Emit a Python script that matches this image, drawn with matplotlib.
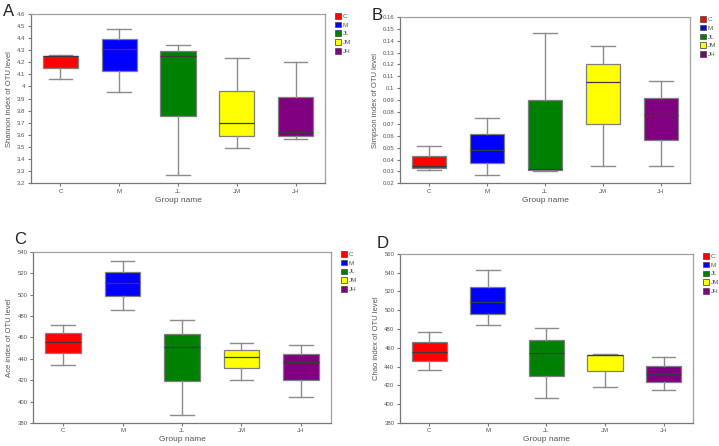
import matplotlib
matplotlib.use('Agg')
import matplotlib.pyplot as plt
from matplotlib.patches import Patch
from matplotlib.ticker import FormatStrFormatter, MultipleLocator

plt.rcParams['font.family'] = ['Liberation Sans', 'DejaVu Sans']

gruppi = ['C', 'M', 'JL', 'JM', 'JH']
colori = ['#ff0000', '#0000ff', '#008000', '#ffff00', '#800080']

# Shannon (A): minimo, Q1, mediana, Q3, massimo
shannon_lo = [4.059, 3.954, 3.269, 3.493, 3.564]
shannon_q1 = [4.155, 4.130, 3.757, 3.594, 3.592]
shannon_med = [4.250, 4.310, 4.249, 3.696, 3.622]
shannon_q3 = [4.254, 4.393, 4.296, 3.964, 3.914]
shannon_hi = [4.257, 4.478, 4.343, 4.231, 4.206]

# Simpson (B)
simpson_lo = [0.0311, 0.0266, 0.0302, 0.0349, 0.0347]
simpson_q1 = [0.0325, 0.0372, 0.0310, 0.0697, 0.0561]
simpson_med = [0.0347, 0.0479, 0.0322, 0.1051, 0.0778]
simpson_q3 = [0.0429, 0.0617, 0.0898, 0.1204, 0.0920]
simpson_hi = [0.0516, 0.0752, 0.1464, 0.1358, 0.1065]

# Ace (C)
ace_lo = [434.0, 485.7, 387.7, 420.5, 404.0]
ace_q1 = [445.2, 498.8, 419.3, 431.4, 420.5]
ace_med = [456.0, 511.0, 451.0, 442.0, 436.7]
ace_q3 = [464.2, 521.6, 463.6, 448.6, 444.5]
ace_hi = [471.7, 531.6, 476.7, 454.8, 453.0]

# Chao (D)
chao_lo = [436.4, 484.3, 406.5, 418.6, 415.4]
chao_q1 = [446.0, 496.4, 430.3, 434.9, 423.6]
chao_med = [455.9, 508.5, 454.1, 452.0, 431.8]
chao_q3 = [465.9, 525.2, 468.3, 452.7, 440.3]
chao_hi = [476.5, 542.6, 481.5, 453.8, 449.9]

# lettera, posizione assi, posizione lettera (px), etichetta y, dati, limiti, passo, formato
pannelli = [
    ('A', [0.0431, 0.5890, 0.4089, 0.3800], (3, 12), 'Shannon index of OTU level',
     (shannon_lo, shannon_q1, shannon_med, shannon_q3, shannon_hi), (3.2, 4.6), 0.1, '%g'),
    ('B', [0.5563, 0.5890, 0.4034, 0.3730], (372, 15), 'Simpson index of OTU level',
     (simpson_lo, simpson_q1, simpson_med, simpson_q3, simpson_hi), (0.02, 0.16), 0.01, '%g'),
    ('C', [0.0463, 0.0518, 0.4136, 0.3833], (14, 240), 'Ace index of OTU level',
     (ace_lo, ace_q1, ace_med, ace_q3, ace_hi), (380, 540), 20, '%d'),
    ('D', [0.5563, 0.0518, 0.4075, 0.3789], (377, 244), 'Chao index of OTU level',
     (chao_lo, chao_q1, chao_med, chao_q3, chao_hi), (380, 560), 20, '%d'),
]

W, H = 719, 446
fig = plt.figure(figsize=(W / 100, H / 100), dpi=100)

for lettera, pos, pos_lett, ylab, dati, ylim, passo, fmt in pannelli:
    ax = fig.add_axes(pos)
    lo, q1, med, q3, hi = dati
    stats = []
    for i in range(len(gruppi)):
        stats.append({'whislo': lo[i], 'q1': q1[i], 'med': med[i],
                      'q3': q3[i], 'whishi': hi[i], 'fliers': [], 'label': gruppi[i]})
    bp = ax.bxp(stats, positions=range(1, 6), widths=0.6, patch_artist=True,
                showfliers=False,
                boxprops=dict(edgecolor='#7f7f7f', linewidth=0.9),
                medianprops=dict(color='#3a3a3a', linewidth=0.9),
                whiskerprops=dict(color='#8c8c8c', linewidth=1.0),
                capprops=dict(color='#8c8c8c', linewidth=1.0),
                capwidths=0.4)
    for box, c in zip(bp['boxes'], colori):
        box.set_facecolor(c)

    ax.set_xlim(0.5, 5.5)
    ax.set_ylim(*ylim)
    ax.yaxis.set_major_locator(MultipleLocator(passo))
    ax.yaxis.set_major_formatter(FormatStrFormatter(fmt))
    ax.tick_params(axis='both', labelsize=4.3, labelcolor='#555555', color='#777777',
                   length=2, width=0.8, direction='out', pad=2)
    for sp in ax.spines.values():
        sp.set_color('#a0a0a0')
        sp.set_linewidth(0.9)
    ax.spines['left'].set_color('#777777')
    ax.spines['bottom'].set_color('#777777')
    ax.set_ylabel(ylab, fontsize=5.5, color='#555555', labelpad=3)
    ax.set_xlabel('Group name', fontsize=6, color='#555555', labelpad=2)

    handles = [Patch(facecolor=c, edgecolor='#555555', linewidth=0.6) for c in colori]
    ax.legend(handles, gruppi, loc='upper left', bbox_to_anchor=(1.025, 1.02),
              frameon=False, fontsize=4.5, handlelength=1.0, handleheight=1.0,
              handletextpad=0.3, labelspacing=0.45, borderaxespad=0,
              labelcolor='#555555')

    fig.text(pos_lett[0] / W, 1 - pos_lett[1] / H, lettera, fontsize=12,
             ha='left', va='center', color='#222222')

fig.savefig('out.png', dpi=100)
